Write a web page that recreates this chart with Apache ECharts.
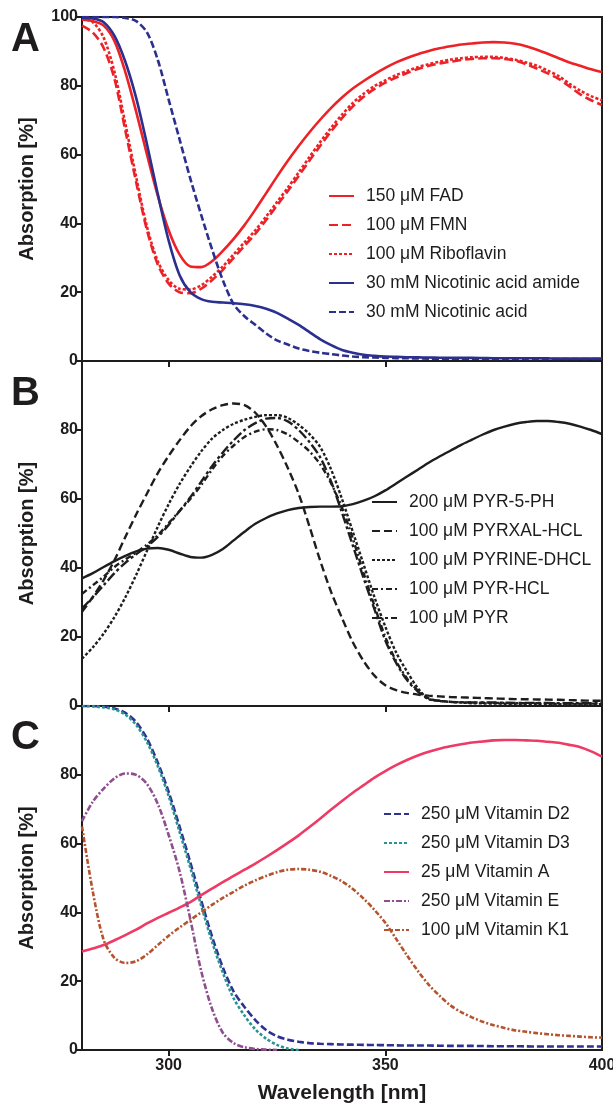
<!DOCTYPE html>
<html><head><meta charset="utf-8">
<script src="https://cdn.jsdelivr.net/npm/echarts@6/dist/echarts.min.js"></script>
<style>html,body{margin:0;padding:0;background:#fff}#c{width:613px;height:1105px}</style>
</head><body><div id="c"></div>
<script>
// shared wavelength grid (nm), 2.5 nm steps
const wavelength = [280,282.5,285,287.5,290,292.5,295,297.5,300,302.5,305,307.5,310,312.5,315,317.5,320,322.5,325,327.5,330,
  332.5,335,337.5,340,342.5,345,347.5,350,352.5,355,357.5,360,362.5,365,367.5,370,372.5,375,377.5,380,382.5,385,387.5,390,392.5,395,397.5,400];
const xTickLabels = [300,350,400];

// Panel A
const fad        = [99.2,98.8,97.5,93,84,72.5,60,48,38,31,27.5,27.3,29,32,35.5,39.5,44,48.8,53.6,58.2,62.5,
  66.5,70.2,73.6,76.6,79.2,81.4,83.4,85.2,86.8,88.1,89.2,90.1,90.9,91.5,92,92.3,92.6,92.7,92.6,92.2,91.5,90.5,89.3,88,86.8,85.8,84.8,84];
const fmn        = [97.5,95.5,91,82,67,52,38,28,22.5,20,19.7,21,23.5,26.5,30,33.5,37,41,45.2,49.4,53.8,
  58.3,62.6,66.8,70.6,74,76.8,79.1,80.9,82.4,83.7,84.9,85.8,86.5,87,87.5,87.8,88,88,87.8,87.3,86.3,85,83.6,82,79.8,77.5,75.8,74.4];
const riboflavin = [99.5,98.5,94,84,69,53.5,39,29,23.5,21,20.8,22,24.5,27.5,31,34.5,38,42,46.2,50.4,54.8,
  59.3,63.7,67.8,71.6,75,77.7,79.9,81.6,83.1,84.3,85.4,86.3,87,87.6,88,88.3,88.4,88.4,88.1,87.6,86.8,85.8,84.4,82.8,80.6,78.6,77,75.8];
const nicAmide   = [99.8,99.6,98.5,94.5,87,76.5,63,48.5,35,25,20,18,17.2,17,16.8,16.5,16,15.2,14,12.3,10.5,
  8.4,6.3,4.6,3.2,2.4,1.8,1.5,1.3,1.2,1.1,1.05,1.0,0.95,0.9,0.9,0.9,0.85,0.8,0.8,0.8,0.8,0.8,0.75,0.7,0.7,0.7,0.7,0.7];
const nicAcid    = [100,100,100,100,99.7,98.8,95.5,87.5,76,64.5,53,42.5,32.5,23.5,16.5,13,10.5,8,6,4.8,3.6,
  2.9,2.4,2.0,1.6,1.3,1.1,1.0,0.9,0.85,0.8,0.75,0.7,0.7,0.7,0.7,0.65,0.65,0.6,0.6,0.6,0.6,0.6,0.6,0.6,0.6,0.6,0.6,0.6];

// Panel B
const pyr5ph     = [37,38.5,40.3,42,43.5,44.8,45.6,45.8,45.3,44.2,43.2,43,43.8,45.5,48,50.5,52.8,54.5,55.8,56.8,57.4,
  57.7,57.8,57.8,57.9,58.5,59.5,60.8,62.5,64.5,66.5,68.5,70.5,72.3,74,75.7,77.2,78.7,80,81,81.8,82.3,82.6,82.6,82.3,81.8,81,80,78.8];
const pyrxalHcl  = [27.3,31.6,36.5,42.3,49,55.5,61.6,67.5,72.5,77,81,84,86,87.2,87.7,87.2,85,81,75.5,69,61.5,
  52,42,33,25.5,18.5,13,8.8,6,4.6,3.8,3.3,3,2.8,2.6,2.5,2.4,2.3,2.2,2.1,2.0,1.95,1.9,1.85,1.8,1.7,1.6,1.55,1.5];
const pyrineDhcl = [13.7,17,21,25.8,31.5,38,45,52,58.5,64.3,69.3,73.8,77.5,80,81.8,83,83.8,84.3,84.3,83.5,81.5,
  78.8,75,68.5,60,50.5,41,31.5,23,15.5,10,5.2,2,1.5,1.2,1.0,0.8,0.75,0.7,0.65,0.6,0.6,0.6,0.6,0.55,0.5,0.5,0.5,0.5];
const pyrHcl     = [32.5,35,37.5,40.3,42.5,44.5,46.8,49.5,53,56.5,60,64,68.5,72.5,75.5,78,79.5,80.2,80,78.7,76.5,
  73.8,70,64.5,57.5,48.5,38.5,29,20,13,8,4.5,2.2,1.5,1.2,1.1,1,0.95,0.9,0.85,0.8,0.8,0.8,0.75,0.7,0.7,0.7,0.7,0.7];
const pyr        = [28.3,31.5,35,38.5,41.5,44,46.2,49,52.5,56.5,60.5,65,69.5,73.5,77,80,82,83.3,83.5,82.5,80,
  76.5,72,65,56,46.5,37,28,19,12.5,7.5,4.2,2,1.5,1.2,1.1,1,1,1,0.95,0.9,0.9,0.9,0.85,0.8,0.8,0.8,0.8,0.8];

// Panel C (D3 and E end where their traces stop)
const vitD2 = [100,100,99.8,99.3,98,95.3,90.5,83.5,75,65,54.5,43.5,33,24,17,12.5,8.7,5.8,4,3,2.4,
  2.0,1.8,1.7,1.6,1.55,1.5,1.45,1.4,1.35,1.3,1.3,1.3,1.25,1.2,1.2,1.2,1.15,1.1,1.1,1.1,1.05,1.0,1.0,1.0,1.0,1.0,1.0,1.0];
const vitD3 = [100,99.9,99.6,99,97.5,94.5,89.5,82.5,73.8,63.5,53,42,31.5,22.5,15,10,6,3.3,1.5,0.4,0];
const vitA  = [28.6,29.5,30.5,31.9,33.4,35,36.8,38.4,39.9,41.4,43,45,46.9,48.8,50.6,52.4,54.2,56.1,58.1,60.2,62.4,
  64.8,67.3,69.9,72.4,74.8,77,79.2,81.1,82.8,84.3,85.6,86.7,87.6,88.3,88.9,89.4,89.7,90,90.1,90.1,90,89.9,89.6,89.3,88.7,88,86.8,85.3];
const vitE  = [66.5,72.2,76,79,80.4,80,77.3,71.5,62.5,52,38,23,12,5,2,0.8,0.3,0.1,0];
const vitK1 = [65,46,32,26.8,25.3,25.8,27.8,30.5,33.2,35.6,37.8,40,42.2,44.2,46,47.8,49.3,50.6,51.7,52.4,52.6,
  52.4,51.8,50.6,49,46.8,44,40.7,37,32.3,27.5,23,19,15.8,13,11,9.5,8.2,7.2,6.4,5.7,5.3,4.9,4.6,4.3,4.1,3.9,3.7,3.6];

const namesA = ['150 μM FAD','100 μM FMN','100 μM Riboflavin','30 mM Nicotinic acid amide','30 mM Nicotinic acid'];
const namesB = ['200 μM PYR-5-PH','100 μM PYRXAL-HCL','100 μM PYRINE-DHCL','100 μM PYR-HCL','100 μM PYR'];
const namesC = ['250 μM Vitamin D2','250 μM Vitamin D3','25 μM Vitamin A','250 μM Vitamin E','100 μM Vitamin K1'];

const INK = '#1e1c1d';
const FONT = 'Liberation Sans, Arial, sans-serif';
const RED = '#ec2227', NAVY = '#2b2f8e', BLK = '#1e1e1e';

function pairs(v){ return v.map((y,i)=>[wavelength[i], y]); }
function ser(name, v, g, color, type, width){
  return {name, type:'line', xAxisIndex:g, yAxisIndex:g, data:pairs(v), smooth:0.3, symbol:'none', showSymbol:false,
    lineStyle:{color, width:width||2.6, type:type||'solid'}, itemStyle:{color}, z:3};
}

const grids = [{top:17,h:344},{top:361,h:345},{top:706,h:344}];

const option = {
  animation:false,
  backgroundColor:'#fff',
  textStyle:{fontFamily:FONT},
  grid: grids.map(g=>({left:82, right:11, top:g.top, height:g.h, show:true, borderColor:INK, borderWidth:2,
    backgroundColor:'transparent', containLabel:false, outerBoundsMode:'none'})),
  xAxis: [0,1,2].map(k=>({type:'value', gridIndex:k, min:280, max:400,
    axisLine:{show:true, onZero:false, lineStyle:{color:INK, width:2}},
    axisTick:{show:true, inside:false, length:6, customValues:[300,350], lineStyle:{color:INK, width:2}},
    axisLabel:{show:k===2, customValues:xTickLabels, fontSize:16, fontWeight:'bold', color:INK, margin:8, fontFamily:FONT},
    splitLine:{show:false},
    name: k===2 ? 'Wavelength [nm]' : '', nameLocation:'middle', nameGap:33,
    nameTextStyle:{fontSize:21, fontWeight:'bold', color:INK, fontFamily:FONT}
  })),
  yAxis: [0,1,2].map(k=>({type:'value', gridIndex:k, min:0, max:100, interval:20,
    axisLine:{show:true, onZero:false, lineStyle:{color:INK, width:2}},
    axisTick:{show:true, inside:false, length:5, lineStyle:{color:INK, width:2}},
    axisLabel:{fontSize:16, fontWeight:'bold', color:INK, margin:4, showMaxLabel:k===0, fontFamily:FONT},
    splitLine:{show:false},
    name:'Absorption [%]', nameLocation:'middle', nameGap:45,
    nameTextStyle:{fontSize:20, fontWeight:'bold', color:INK, fontFamily:FONT}
  })),
  legend: [
    {data:namesA, left:328, top:187},
    {data:namesB, left:371, top:493},
    {data:namesC, left:383, top:805}
  ].map(l=>({data:l.data, left:l.left, top:l.top, orient:'vertical', padding:0, itemWidth:25, itemHeight:14, itemGap:11,
    selectedMode:false, itemStyle:{opacity:0},
    textStyle:{fontSize:17.5, color:INK, fontFamily:FONT, padding:[0,0,0,7]}})),
  graphic: [
    {type:'text', left:11, top:20, style:{text:'A', font:'bold 40px '+FONT, fill:INK}},
    {type:'text', left:11, top:374, style:{text:'B', font:'bold 40px '+FONT, fill:INK}},
    {type:'text', left:11, top:718, style:{text:'C', font:'bold 40px '+FONT, fill:INK}}
  ],
  series: [
    ser(namesA[0], fad, 0, RED, 'solid'),
    ser(namesA[1], fmn, 0, RED, [9,4]),
    ser(namesA[2], riboflavin, 0, RED, [3,2]),
    ser(namesA[3], nicAmide, 0, NAVY, 'solid'),
    ser(namesA[4], nicAcid, 0, NAVY, [7,3]),
    ser(namesB[0], pyr5ph, 1, BLK, 'solid', 2.4),
    ser(namesB[1], pyrxalHcl, 1, BLK, [8,4], 2.4),
    ser(namesB[2], pyrineDhcl, 1, BLK, [3,2], 2.4),
    ser(namesB[3], pyrHcl, 1, BLK, [6,3,2,3], 2.4),
    ser(namesB[4], pyr, 1, BLK, [10,3,3,3], 2.4),
    ser(namesC[0], vitD2, 2, '#2e3192', [7,3]),
    ser(namesC[1], vitD3, 2, '#2a9494', [3,2]),
    ser(namesC[2], vitA, 2, '#ee3a64', 'solid'),
    ser(namesC[3], vitE, 2, '#8f4f8f', [6,2,2,2]),
    ser(namesC[4], vitK1, 2, '#b4532e', [5,2,2,2])
  ]
};
const chart = echarts.init(document.getElementById('c'), null, {renderer:'canvas'});
chart.setOption(option);
</script>
</body></html>
